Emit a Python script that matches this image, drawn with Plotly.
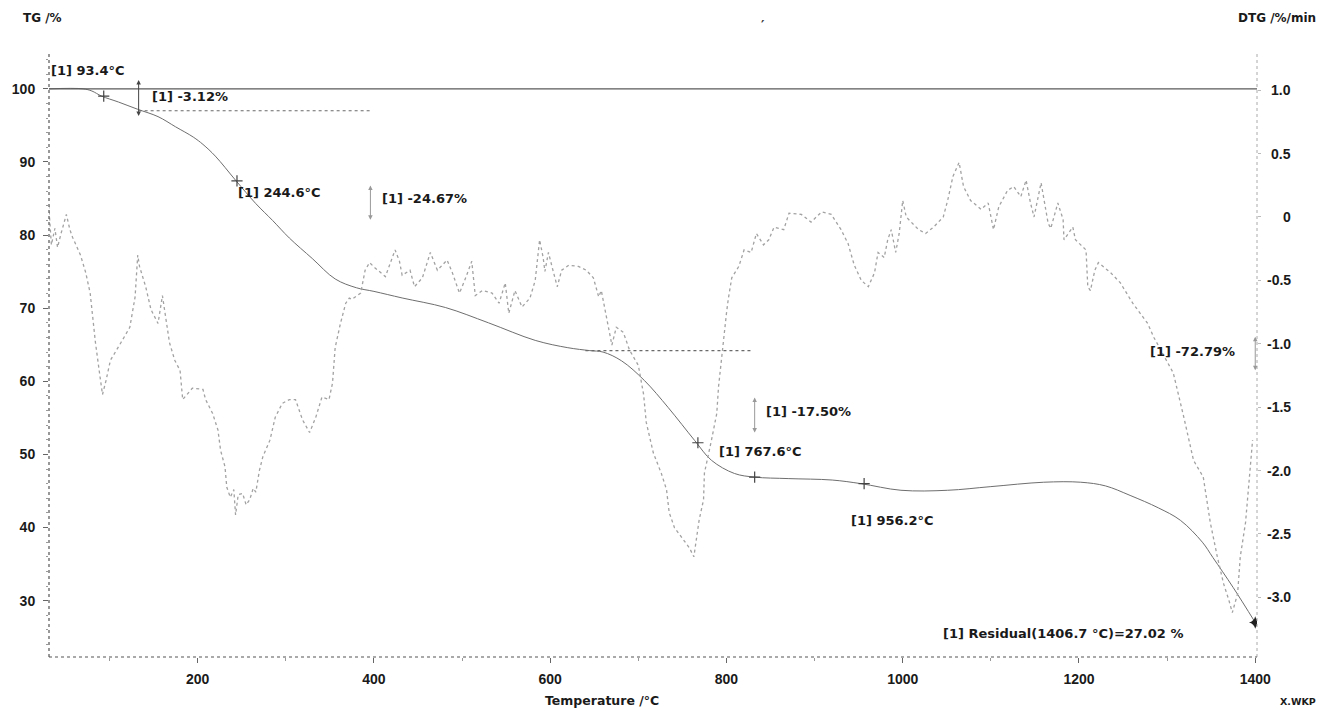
import plotly.graph_objects as go

# ---------------- data ----------------
tg_temp = [31, 70, 80, 91, 110, 132, 155, 175, 195, 206,
           220, 243, 266, 285, 304, 330, 356, 380, 400, 432,
           481, 530, 583, 620, 645, 660, 681, 707, 734, 764,
           783, 809, 832, 870, 920, 953, 998, 1051, 1100, 1160,
           1202, 1230, 1258, 1290, 1315, 1340, 1352, 1375, 1400]
tg_val = [100.0, 100.0, 99.7, 99.0, 98.2, 97.2, 96.2, 94.8, 93.4, 92.4,
          90.8, 87.5, 84.3, 82.0, 79.6, 76.8, 74.0, 72.8, 72.3, 71.4,
          70.1, 68.0, 65.6, 64.6, 64.2, 64.0, 62.8, 60.1, 56.4, 51.9,
          49.2, 47.4, 46.9, 46.7, 46.5, 46.0, 45.1, 45.1, 45.6, 46.2,
          46.2, 45.7, 44.4, 42.7, 41.0, 38.0, 35.9, 31.8, 27.02]

dtg_temp = [31, 34, 38, 41, 45, 51, 55, 58, 67, 73,
            78, 81, 84, 89, 92, 96, 101, 113, 123, 129,
            132, 134, 141, 147, 155, 160, 164, 168, 174, 180,
            183, 194, 206, 209, 217, 223, 226, 231, 233, 237,
            241, 243, 246, 251, 255, 259, 263, 266, 270, 274,
            282, 288, 296, 304, 311, 319, 327, 334, 341, 349,
            353, 356, 362, 368, 372, 375, 385, 390, 395, 401,
            413, 417, 424, 429, 432, 441, 446, 455, 464, 472,
            483, 489, 497, 503, 511, 515, 523, 534, 542, 549,
            553, 560, 568, 577, 583, 588, 592, 594, 598, 602,
            608, 613, 621, 632, 641, 649, 655, 658, 664, 670,
            675, 683, 690, 700, 706, 709, 717, 726, 732, 735,
            741, 752, 758, 763, 766, 769, 774, 775, 783, 789,
            791, 794, 798, 800, 802, 806, 814, 820, 828, 834,
            842, 848, 854, 865, 871, 885, 896, 908, 919, 930,
            938, 945, 953, 961, 968, 972, 979, 983, 987, 992,
            996, 1000, 1004, 1012, 1018, 1026, 1035, 1046, 1051, 1057,
            1064, 1069, 1077, 1089, 1097, 1103, 1109, 1119, 1126, 1134,
            1140, 1145, 1149, 1157, 1165, 1168, 1176, 1182, 1183, 1193,
            1196, 1202, 1208, 1210, 1213, 1218, 1222, 1236, 1247, 1261,
            1270, 1278, 1285, 1296, 1307, 1319, 1330, 1341, 1349, 1357,
            1364, 1370, 1374, 1380, 1383, 1389, 1392, 1397]
dtg_val = [0.09, -0.22, -0.09, -0.24, -0.13, 0.02, -0.10, -0.16, -0.30, -0.44,
           -0.60, -0.79, -0.99, -1.25, -1.40, -1.29, -1.13, -0.99, -0.87, -0.63,
           -0.30, -0.39, -0.55, -0.73, -0.84, -0.62, -0.81, -0.99, -1.13, -1.21,
           -1.44, -1.35, -1.36, -1.44, -1.55, -1.68, -1.84, -1.97, -2.13, -2.21,
           -2.15, -2.35, -2.19, -2.18, -2.27, -2.23, -2.14, -2.17, -2.00, -1.89,
           -1.76, -1.58, -1.47, -1.44, -1.44, -1.60, -1.70, -1.58, -1.42, -1.44,
           -1.31, -1.03, -0.84, -0.68, -0.64, -0.65, -0.60, -0.42, -0.36, -0.40,
           -0.47, -0.39, -0.26, -0.35, -0.46, -0.42, -0.55, -0.48, -0.28, -0.42,
           -0.34, -0.44, -0.60, -0.50, -0.35, -0.62, -0.58, -0.60, -0.68, -0.52,
           -0.76, -0.58, -0.71, -0.64, -0.50, -0.18, -0.32, -0.43, -0.28, -0.39,
           -0.55, -0.42, -0.38, -0.39, -0.42, -0.48, -0.63, -0.58, -0.79, -1.01,
           -0.87, -0.91, -1.05, -1.17, -1.40, -1.62, -1.86, -2.02, -2.15, -2.33,
           -2.45, -2.55, -2.61, -2.68, -2.55, -2.39, -2.23, -2.02, -1.76, -1.55,
           -1.34, -1.13, -0.91, -0.76, -0.65, -0.48, -0.39, -0.26, -0.28, -0.13,
           -0.22, -0.18, -0.08, -0.10, 0.03, 0.02, -0.04, 0.04, 0.02, -0.10,
           -0.21, -0.38, -0.50, -0.55, -0.44, -0.28, -0.32, -0.18, -0.10, -0.28,
           -0.13, 0.13, 0.00, -0.06, -0.10, -0.13, -0.08, 0.00, 0.13, 0.32,
           0.43, 0.24, 0.13, 0.06, 0.11, -0.10, 0.08, 0.21, 0.24, 0.16,
           0.29, 0.11, 0.00, 0.27, -0.05, -0.09, 0.11, -0.02, -0.18, -0.08,
           -0.18, -0.22, -0.26, -0.55, -0.58, -0.42, -0.36, -0.44, -0.52, -0.68,
           -0.77, -0.84, -0.95, -1.09, -1.23, -1.58, -1.92, -2.05, -2.41, -2.68,
           -2.89, -3.02, -3.12, -2.97, -2.68, -2.41, -2.15, -1.76]

x_ticks = [200, 400, 600, 800, 1000, 1200, 1400]
tg_ticks = [30, 40, 50, 60, 70, 80, 90, 100]
dtg_ticks = [1.0, 0.5, 0.0, -0.5, -1.0, -1.5, -2.0, -2.5, -3.0]
dtg_tick_text = ["1.0", "0.5", "0", "-0.5", "-1.0", "-1.5", "-2.0", "-2.5", "-3.0"]

# evaluated points (temperature, TG)
mark_temp = [93.4, 244.6, 767.6, 832, 956.2]
mark_tg = [99.0, 87.4, 51.6, 46.9, 46.0]
residual_temp = [1400]
residual_tg = [27.02]

# annotation texts: (temperature, TG, text)
labels = [
    (31.3, 102.5, "[1] 93.4°C"),
    (146, 98.9, "[1] -3.12%"),
    (243, 85.8, "[1] 244.6°C"),
    (407, 85.0, "[1] -24.67%"),
    (843, 55.9, "[1] -17.50%"),
    (789, 50.4, "[1] 767.6°C"),
    (939, 41.0, "[1] 956.2°C"),
    (1278, 64.1, "[1] -72.79%"),
    (1043, 25.5, "[1] Residual(1406.7 °C)=27.02 %"),
]
# step arrows: (temperature, TG top, TG bottom, colour)
step_arrows = [
    (133, 101.4, 96.3, "#444"),
    (396, 87.0, 82.1, "#999"),
    (832, 58.0, 53.0, "#999"),
    (1400, 66.3, 61.5, "#999"),
]
# level lines: (T start, T end, TG level)
level_lines = [(31.3, 1402, 100.0), (133, 398, 97.0), (640, 830, 64.2)]

X_RANGE = [31.3, 1402]
TG_RANGE = [22.3, 104.9]
DTG_RANGE = [-3.47, 1.293]

LBL_FONT = dict(family="DejaVu Sans", size=13, color="#1a1a1a")
TICK_FONT = dict(family="Liberation Sans, Arial", size=14, color="#1a1a1a", weight="bold")


def b(s):
    return "<b>" + s + "</b>"


fig = go.Figure()

fig.add_trace(go.Scatter(x=dtg_temp, y=dtg_val, yaxis="y2", mode="lines",
                         line=dict(color="#a2a2a2", width=1.3, dash="dot"),
                         showlegend=False, hoverinfo="skip"))
fig.add_trace(go.Scatter(x=tg_temp, y=tg_val, mode="lines", line_shape="spline",
                         line=dict(color="#6e6e6e", width=1.0),
                         showlegend=False, hoverinfo="skip"))
fig.add_trace(go.Scatter(x=mark_temp, y=mark_tg, mode="markers",
                         marker=dict(symbol="cross-thin", size=8,
                                     line=dict(width=1.2, color="#444")),
                         showlegend=False, hoverinfo="skip"))
fig.add_trace(go.Scatter(x=residual_temp, y=residual_tg, mode="markers",
                         marker=dict(symbol="star-diamond", size=9, color="#222"),
                         showlegend=False, hoverinfo="skip"))

for t0, t1, lvl in level_lines:
    fig.add_shape(type="line", xref="x", yref="y", x0=t0, x1=t1, y0=lvl, y1=lvl,
                  line=dict(color="#5a5a5a" if lvl == 100.0 else "#6a6a6a",
                            width=1.1 if lvl == 100.0 else 1.2,
                            dash="solid" if lvl == 100.0 else "dot"))

for t, top, bot, col in step_arrows:
    fig.add_annotation(x=t, y=bot, ax=t, ay=top, xref="x", yref="y", axref="x", ayref="y",
                       text="", showarrow=True, arrowhead=2, arrowside="end+start",
                       arrowsize=0.9, arrowwidth=1, arrowcolor=col, standoff=0, startstandoff=0)

for t, v, txt in labels:
    fig.add_annotation(x=t, y=v, xref="x", yref="y", text=b(txt), showarrow=False,
                       xanchor="left", yanchor="middle", font=LBL_FONT)

# right-axis tick labels (right aligned like the original)
for v, txt in zip(dtg_ticks, dtg_tick_text):
    fig.add_annotation(x=1.0297, y=v, xref="paper", yref="y2", text=b(txt), showarrow=False,
                       xanchor="right", yanchor="middle", font=TICK_FONT)

# axis titles and corner texts
fig.add_annotation(x=-0.0231, y=1.058, xref="paper", yref="paper", text=b("TG /%"),
                   showarrow=False, xanchor="left", yanchor="middle",
                   font=dict(family="DejaVu Sans", size=12, color="#1a1a1a"))
fig.add_annotation(x=1.0504, y=1.058, xref="paper", yref="paper", text=b("DTG /%/min"),
                   showarrow=False, xanchor="right", yanchor="middle",
                   font=dict(family="DejaVu Sans", size=12, color="#1a1a1a"))
fig.add_annotation(x=0.4575, y=-0.0712, xref="paper", yref="paper", text=b("Temperature /°C"),
                   showarrow=False, xanchor="center", yanchor="middle",
                   font=dict(family="DejaVu Sans", size=12.5, color="#1a1a1a"))
fig.add_annotation(x=1.0504, y=-0.073, xref="paper", yref="paper", text=b("X.WKP"),
                   showarrow=False, xanchor="right", yanchor="middle",
                   font=dict(family="DejaVu Sans", size=9.5, color="#1a1a1a"))
fig.add_annotation(x=0.591, y=1.063, xref="paper", yref="paper", text=b("′"),
                   showarrow=False, font=dict(family="DejaVu Sans", size=13, color="#333"))

# dotted axis lines
fig.add_shape(type="line", xref="paper", yref="paper", x0=0, x1=0, y0=0, y1=1,
              line=dict(color="#555", width=1.2, dash="dot"))
fig.add_shape(type="line", xref="paper", yref="paper", x0=1, x1=1, y0=0, y1=1,
              line=dict(color="#aaa", width=1, dash="dot"))
fig.add_shape(type="line", xref="paper", yref="paper", x0=0, x1=1, y0=0, y1=0,
              line=dict(color="#555", width=1.2, dash="dot"))

fig.update_layout(
    width=1320, height=711,
    margin=dict(l=46, r=63, t=53, b=54),
    paper_bgcolor="white", plot_bgcolor="white",
    xaxis=dict(range=X_RANGE, tickvals=x_ticks, showgrid=False, zeroline=False,
               showline=False, ticks="outside", ticklen=5, tickcolor="#666",
               tickfont=TICK_FONT, ticklabelstandoff=4,
               minor=dict(dtick=100, tick0=0, ticks="outside", ticklen=3, tickcolor="#999")),
    yaxis=dict(range=TG_RANGE, tickvals=tg_ticks, showgrid=False, zeroline=False,
               showline=False, ticks="outside", ticklen=5, tickcolor="#666",
               tickfont=TICK_FONT, ticklabelstandoff=5,
               minor=dict(dtick=2, tick0=0, ticks="outside", ticklen=2, tickcolor="#999")),
    yaxis2=dict(range=DTG_RANGE, overlaying="y", side="right", showgrid=False,
                zeroline=False, showline=False, showticklabels=False,
                tickvals=dtg_ticks, ticks="outside", ticklen=3, tickcolor="#bbb"),
)

fig.write_html("out.html")
